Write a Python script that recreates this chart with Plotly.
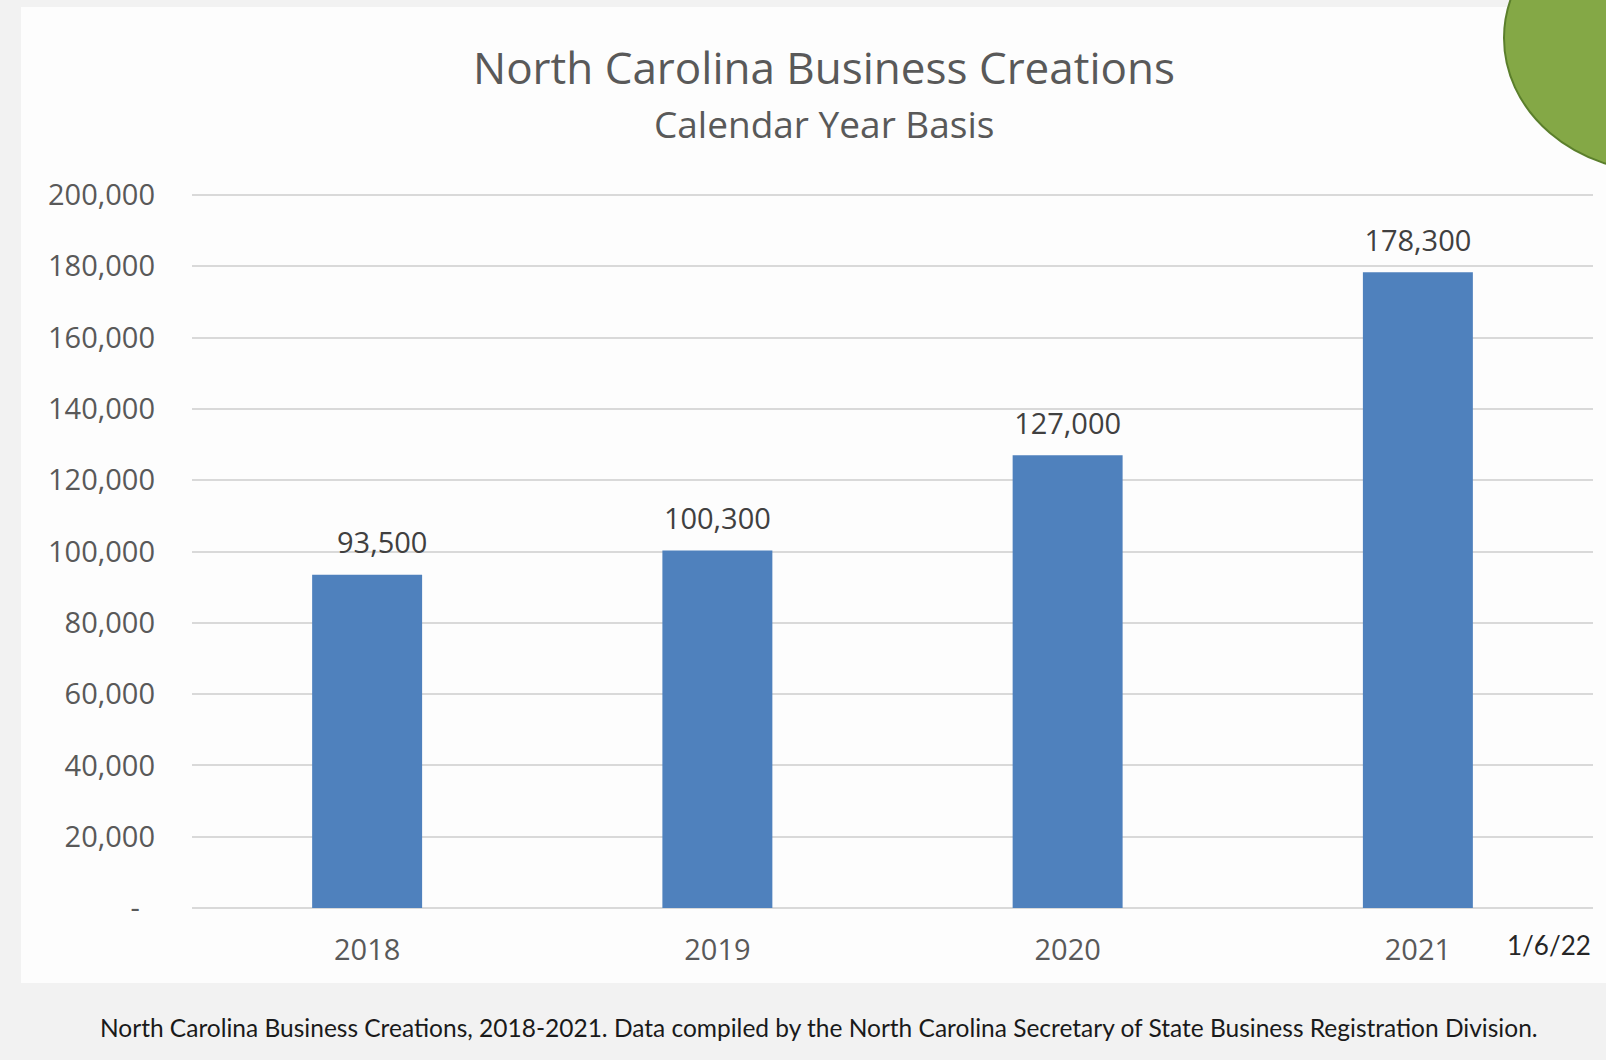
import plotly.graph_objects as go

years = ["2018", "2019", "2020", "2021"]
creations = [93500, 100300, 127000, 178300]
value_labels = ["93,500", "100,300", "127,000", "178,300"]
y_tickvals = [0, 20000, 40000, 60000, 80000, 100000, 120000, 140000, 160000, 180000, 200000]
y_ticktext = ["-\u00a0\u00a0", "20,000", "40,000", "60,000", "80,000", "100,000",
              "120,000", "140,000", "160,000", "180,000", "200,000"]

W, H = 1606, 1060
L, R, T, B = 192, 13, 192, 152
PW = W - L - R
PH = H - T - B

def px(x):
    return (x - L) / PW

def py(y):
    return (H - B - y) / PH

# the first label sits slightly right of its bar in the reference
shown_labels = ["\u00a0" * 4 + value_labels[0]] + value_labels[1:]

fig = go.Figure()
fig.add_trace(go.Bar(
    x=years, y=creations,
    marker=dict(color="#4f81bd", line=dict(width=0)),
    width=0.314,
    hoverinfo="skip",
))
fig.add_trace(go.Scatter(
    x=years, y=creations, text=shown_labels,
    mode="markers+text", textposition="top center",
    marker=dict(size=21, opacity=0),
    textfont=dict(family="Open Sans", size=29, color="#404040"),
    hoverinfo="skip", cliponaxis=False,
))

annotations = [
    dict(x=px(824), y=py(67), xref="paper", yref="paper",
         text="North Carolina Business Creations", showarrow=False,
         xanchor="center", yanchor="middle",
         font=dict(family="Open Sans", size=44, color="#595959")),
    dict(x=px(824), y=py(123), xref="paper", yref="paper",
         text="Calendar Year Basis", showarrow=False,
         xanchor="center", yanchor="middle",
         font=dict(family="Open Sans", size=37, color="#595959")),
    dict(x=px(1549), y=py(945), xref="paper", yref="paper",
         text="1/6/22", showarrow=False,
         xanchor="center", yanchor="middle",
         font=dict(family="Lato", size=26, color="#262626")),
    dict(x=px(819), y=py(1027), xref="paper", yref="paper",
         text="North Carolina Business Creations, 2018-2021. Data compiled by the North Carolina Secretary of State Business Registration Division.",
         showarrow=False, xanchor="center", yanchor="middle",
         font=dict(family="Lato", size=24.5, color="#1a1a1a")),
]

shapes = [
    dict(type="rect", xref="paper", yref="paper", layer="below",
         x0=px(21), x1=px(1700), y0=py(983), y1=py(7),
         fillcolor="#fdfdfd", line=dict(width=0)),
    dict(type="circle", xref="paper", yref="paper", layer="above",
         x0=px(1660 - 156), x1=px(1660 + 156), y0=py(38 + 134), y1=py(38 - 134),
         fillcolor="#84a846", line=dict(color="#5b7f2c", width=2)),
]

fig.update_layout(
    width=W, height=H,
    margin=dict(l=L, r=R, t=T, b=B),
    paper_bgcolor="#f2f2f2",
    plot_bgcolor="rgba(0,0,0,0)",
    showlegend=False,
    bargap=0.686,
    annotations=annotations,
    shapes=shapes,
    xaxis=dict(
        type="category",
        range=[-0.5, 3.5],
        showgrid=False, zeroline=False, showline=False, ticks="",
        tickfont=dict(family="Open Sans", size=29, color="#595959"),
        ticklabelstandoff=22,
    ),
    yaxis=dict(
        range=[0, 200000 * PH / 713],
        tickvals=y_tickvals, ticktext=y_ticktext,
        showgrid=True, gridcolor="#d9d9d9", gridwidth=2,
        zeroline=True, zerolinecolor="#d9d9d9", zerolinewidth=2,
        showline=False, ticks="",
        tickfont=dict(family="Open Sans", size=29, color="#595959"),
        ticklabelstandoff=36,
    ),
)

fig.write_html(
    "out.html",
    config={"displayModeBar": False},
    post_script="document.body.style.margin='0px';document.body.style.background='#f2f2f2';",
)
